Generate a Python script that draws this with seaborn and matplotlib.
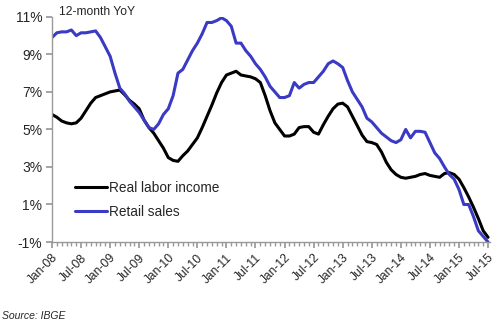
import numpy as np
import pandas as pd
import matplotlib
matplotlib.use("Agg")
import matplotlib.pyplot as plt
import seaborn as sns
from matplotlib.lines import Line2D

months = pd.date_range("2008-01-01", "2015-07-01", freq="MS")
tick_labels = ["Jan-08", "Jul-08", "Jan-09", "Jul-09", "Jan-10", "Jul-10", "Jan-11", "Jul-11",
               "Jan-12", "Jul-12", "Jan-13", "Jul-13", "Jan-14", "Jul-14", "Jan-15", "Jul-15"]
y_ticks = [-1, 1, 3, 5, 7, 9, 11]

labor_income = [5.8, 5.65, 5.45, 5.35, 5.3, 5.35, 5.6, 6.0, 6.4, 6.7, 6.8, 6.9,
                7.0, 7.05, 7.1, 6.85, 6.55, 6.35, 6.1, 5.5, 5.1, 4.8, 4.4, 4.0,
                3.5, 3.35, 3.3, 3.6, 3.85, 4.2, 4.55, 5.1, 5.7, 6.3, 6.95, 7.5,
                7.9, 8.0, 8.1, 7.9, 7.85, 7.8, 7.7, 7.5, 6.8, 6.0, 5.35, 5.0,
                4.65, 4.65, 4.75, 5.1, 5.15, 5.15, 4.85, 4.75, 5.25, 5.7, 6.1, 6.35,
                6.4, 6.2, 5.7, 5.2, 4.7, 4.35, 4.3, 4.2, 3.8, 3.25, 2.85, 2.6,
                2.45, 2.4, 2.45, 2.5, 2.6, 2.65, 2.55, 2.5, 2.45, 2.65, 2.7, 2.6,
                2.35, 1.9, 1.4, 0.85, 0.25, -0.4, -0.75]

retail_sales = [9.9, 10.15, 10.2, 10.2, 10.3, 10.0, 10.15, 10.15, 10.2, 10.25, 9.9, 9.4,
                8.9, 8.0, 7.2, 6.9, 6.5, 6.2, 5.9, 5.5, 5.1, 5.0, 5.3, 5.8,
                6.1, 6.8, 8.0, 8.2, 8.7, 9.2, 9.6, 10.1, 10.7, 10.7, 10.8, 10.95,
                10.8, 10.5, 9.6, 9.6, 9.2, 8.9, 8.5, 8.2, 7.8, 7.3, 7.0, 6.7,
                6.7, 6.8, 7.5, 7.2, 7.4, 7.5, 7.5, 7.8, 8.1, 8.5, 8.65, 8.5,
                8.3, 7.6, 7.0, 6.6, 6.2, 5.6, 5.4, 5.1, 4.8, 4.6, 4.4, 4.3,
                4.45, 5.0, 4.55, 4.9, 4.9, 4.85, 4.3, 3.75, 3.45, 3.0, 2.6, 2.35,
                1.8, 1.0, 1.0, 0.35, -0.4, -0.7, -1.0]

idx = np.arange(len(months))
df = pd.DataFrame({
    "m": np.concatenate([idx, idx]),
    "value": labor_income + retail_sales,
    "series": ["Real labor income"] * len(idx) + ["Retail sales"] * len(idx),
})

sns.set_theme(style="white")
plt.rcParams["font.family"] = ["Liberation Sans", "DejaVu Sans"]

BLUE = "#3a3ac4"
fig = plt.figure(figsize=(5.0, 3.24), dpi=100)
ax = fig.add_axes([0.104, 0.253, 0.876, 0.695])

sns.lineplot(data=df, x="m", y="value", hue="series",
             palette={"Real labor income": "#000000", "Retail sales": BLUE},
             linewidth=2.2, ax=ax, legend=False)

ax.set_xlim(0, 90.4)
ax.set_ylim(-1, 11)
ax.set_yticks(y_ticks)
ax.set_yticklabels([f"{v}%" for v in y_ticks], fontsize=10)
ax.set_xticks(np.arange(0, 91, 6))
ax.set_xticklabels(tick_labels, rotation=45, ha="right", rotation_mode="anchor", fontsize=8.7)
ax.set_xticks(np.arange(0, 91, 1), minor=True)
ax.set_xlabel("")
ax.set_ylabel("")

for s in ["top", "right"]:
    ax.spines[s].set_visible(False)
for s in ["left", "bottom"]:
    ax.spines[s].set_color("#999999")
    ax.spines[s].set_linewidth(1.0)
ax.tick_params(axis="y", which="major", length=4, color="#999999", direction="out", left=True, pad=3)
ax.tick_params(axis="x", which="major", length=4, color="#999999", direction="out", bottom=True, pad=3)
ax.tick_params(axis="x", which="minor", length=3, color="#999999", direction="out", bottom=True)

handles = [Line2D([], [], color="#000000", lw=2.2), Line2D([], [], color=BLUE, lw=2.2)]
ax.legend(handles, ["Real labor income", "Retail sales"], loc="lower left",
          bbox_to_anchor=(0.03, 0.06), frameon=False, fontsize=9.8,
          handlelength=2.4, handletextpad=0.1, labelspacing=0.75, borderpad=0.2)

ax.text(0.015, 1.02, "12-month YoY", transform=ax.transAxes, fontsize=8.7, va="center", ha="left")
fig.text(0.004, 0.01, "Source: IBGE", fontsize=7.5, style="italic", ha="left", va="bottom")

fig.savefig("out.png", dpi=100)
